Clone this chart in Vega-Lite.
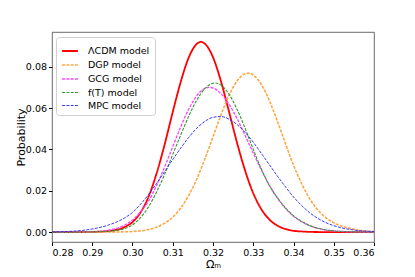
{
  "$schema": "https://vega.github.io/schema/vega-lite/v6.json",
  "width": 322,
  "height": 210,
  "autosize": "none",
  "padding": {"left": 52, "top": 32, "right": 41, "bottom": 35},
  "config": {
    "font": "DejaVu Sans",
    "view": {"stroke": "#444", "strokeWidth": 0.8},
    "axis": {"grid": false, "domain": false, "tickColor": "#000", "tickSize": 3.5, "labelColor": "#000", "labelFont": "DejaVu Sans", "labelFontSize": 9.5, "titleFont": "DejaVu Sans", "titleFontSize": 11, "titleFontWeight": "normal", "titleColor": "#000"}
  },
  "datasets": {
    "curves": [
      {"x":0.280,"p":0,"model":"ΛCDM model"},{"x":0.285,"p":0.00001,"model":"ΛCDM model"},{"x":0.290,"p":0.0001,"model":"ΛCDM model"},{"x":0.294,"p":0.0005,"model":"ΛCDM model"},{"x":0.298,"p":0.0024,"model":"ΛCDM model"},{"x":0.300,"p":0.0048,"model":"ΛCDM model"},{"x":0.302,"p":0.0095,"model":"ΛCDM model"},{"x":0.304,"p":0.0172,"model":"ΛCDM model"},{"x":0.306,"p":0.0285,"model":"ΛCDM model"},{"x":0.308,"p":0.0425,"model":"ΛCDM model"},{"x":0.310,"p":0.0581,"model":"ΛCDM model"},{"x":0.312,"p":0.0728,"model":"ΛCDM model"},{"x":0.314,"p":0.0846,"model":"ΛCDM model"},{"x":0.316,"p":0.0911,"model":"ΛCDM model"},{"x":0.317,"p":0.0920,"model":"ΛCDM model"},{"x":0.318,"p":0.0911,"model":"ΛCDM model"},{"x":0.320,"p":0.0846,"model":"ΛCDM model"},{"x":0.322,"p":0.0728,"model":"ΛCDM model"},{"x":0.324,"p":0.0581,"model":"ΛCDM model"},{"x":0.326,"p":0.0430,"model":"ΛCDM model"},{"x":0.328,"p":0.0296,"model":"ΛCDM model"},{"x":0.330,"p":0.0188,"model":"ΛCDM model"},{"x":0.332,"p":0.0111,"model":"ΛCDM model"},{"x":0.334,"p":0.0061,"model":"ΛCDM model"},{"x":0.336,"p":0.0031,"model":"ΛCDM model"},{"x":0.338,"p":0.0015,"model":"ΛCDM model"},{"x":0.340,"p":0.0006,"model":"ΛCDM model"},{"x":0.342,"p":0.0003,"model":"ΛCDM model"},{"x":0.344,"p":0.0001,"model":"ΛCDM model"},{"x":0.346,"p":0.00003,"model":"ΛCDM model"},{"x":0.350,"p":0,"model":"ΛCDM model"},{"x":0.355,"p":0,"model":"ΛCDM model"},{"x":0.360,"p":0,"model":"ΛCDM model"},

      {"x":0.280,"p":0,"model":"DGP model"},{"x":0.285,"p":0,"model":"DGP model"},{"x":0.290,"p":0,"model":"DGP model"},{"x":0.294,"p":0.00002,"model":"DGP model"},{"x":0.298,"p":0.00013,"model":"DGP model"},{"x":0.300,"p":0.0003,"model":"DGP model"},{"x":0.302,"p":0.0006,"model":"DGP model"},{"x":0.304,"p":0.0012,"model":"DGP model"},{"x":0.306,"p":0.0024,"model":"DGP model"},{"x":0.308,"p":0.0043,"model":"DGP model"},{"x":0.310,"p":0.0072,"model":"DGP model"},{"x":0.312,"p":0.0117,"model":"DGP model"},{"x":0.314,"p":0.0179,"model":"DGP model"},{"x":0.316,"p":0.0258,"model":"DGP model"},{"x":0.318,"p":0.0355,"model":"DGP model"},{"x":0.320,"p":0.0461,"model":"DGP model"},{"x":0.322,"p":0.0568,"model":"DGP model"},{"x":0.324,"p":0.0662,"model":"DGP model"},{"x":0.326,"p":0.0732,"model":"DGP model"},{"x":0.328,"p":0.0766,"model":"DGP model"},{"x":0.329,"p":0.0769,"model":"DGP model"},{"x":0.330,"p":0.0760,"model":"DGP model"},{"x":0.332,"p":0.0714,"model":"DGP model"},{"x":0.334,"p":0.0636,"model":"DGP model"},{"x":0.336,"p":0.0536,"model":"DGP model"},{"x":0.338,"p":0.0428,"model":"DGP model"},{"x":0.340,"p":0.0324,"model":"DGP model"},{"x":0.342,"p":0.0235,"model":"DGP model"},{"x":0.344,"p":0.0162,"model":"DGP model"},{"x":0.346,"p":0.0108,"model":"DGP model"},{"x":0.348,"p":0.0070,"model":"DGP model"},{"x":0.350,"p":0.0045,"model":"DGP model"},{"x":0.355,"p":0.0014,"model":"DGP model"},{"x":0.360,"p":0.0002,"model":"DGP model"},

      {"x":0.280,"p":0,"model":"GCG model"},{"x":0.285,"p":0.00003,"model":"GCG model"},{"x":0.290,"p":0.0002,"model":"GCG model"},{"x":0.294,"p":0.0009,"model":"GCG model"},{"x":0.298,"p":0.0033,"model":"GCG model"},{"x":0.300,"p":0.0058,"model":"GCG model"},{"x":0.302,"p":0.0098,"model":"GCG model"},{"x":0.304,"p":0.0150,"model":"GCG model"},{"x":0.306,"p":0.0226,"model":"GCG model"},{"x":0.308,"p":0.0316,"model":"GCG model"},{"x":0.310,"p":0.0413,"model":"GCG model"},{"x":0.312,"p":0.0510,"model":"GCG model"},{"x":0.314,"p":0.0596,"model":"GCG model"},{"x":0.316,"p":0.0661,"model":"GCG model"},{"x":0.318,"p":0.0695,"model":"GCG model"},{"x":0.319,"p":0.0700,"model":"GCG model"},{"x":0.320,"p":0.0697,"model":"GCG model"},{"x":0.322,"p":0.0669,"model":"GCG model"},{"x":0.324,"p":0.0618,"model":"GCG model"},{"x":0.326,"p":0.0548,"model":"GCG model"},{"x":0.328,"p":0.0467,"model":"GCG model"},{"x":0.330,"p":0.0382,"model":"GCG model"},{"x":0.332,"p":0.0301,"model":"GCG model"},{"x":0.334,"p":0.0227,"model":"GCG model"},{"x":0.336,"p":0.0165,"model":"GCG model"},{"x":0.338,"p":0.0115,"model":"GCG model"},{"x":0.340,"p":0.0077,"model":"GCG model"},{"x":0.342,"p":0.0050,"model":"GCG model"},{"x":0.344,"p":0.0031,"model":"GCG model"},{"x":0.346,"p":0.0018,"model":"GCG model"},{"x":0.348,"p":0.0010,"model":"GCG model"},{"x":0.350,"p":0.0006,"model":"GCG model"},{"x":0.355,"p":0.0001,"model":"GCG model"},{"x":0.360,"p":0,"model":"GCG model"},

      {"x":0.280,"p":0,"model":"f(T) model"},{"x":0.285,"p":0,"model":"f(T) model"},{"x":0.290,"p":0.0001,"model":"f(T) model"},{"x":0.294,"p":0.0004,"model":"f(T) model"},{"x":0.298,"p":0.0017,"model":"f(T) model"},{"x":0.300,"p":0.0035,"model":"f(T) model"},{"x":0.302,"p":0.0070,"model":"f(T) model"},{"x":0.304,"p":0.0123,"model":"f(T) model"},{"x":0.306,"p":0.0195,"model":"f(T) model"},{"x":0.308,"p":0.0280,"model":"f(T) model"},{"x":0.310,"p":0.0376,"model":"f(T) model"},{"x":0.312,"p":0.0471,"model":"f(T) model"},{"x":0.314,"p":0.0562,"model":"f(T) model"},{"x":0.316,"p":0.0640,"model":"f(T) model"},{"x":0.318,"p":0.0695,"model":"f(T) model"},{"x":0.320,"p":0.0720,"model":"f(T) model"},{"x":0.3205,"p":0.0721,"model":"f(T) model"},{"x":0.322,"p":0.0711,"model":"f(T) model"},{"x":0.324,"p":0.0666,"model":"f(T) model"},{"x":0.326,"p":0.0593,"model":"f(T) model"},{"x":0.328,"p":0.0501,"model":"f(T) model"},{"x":0.330,"p":0.0400,"model":"f(T) model"},{"x":0.332,"p":0.0305,"model":"f(T) model"},{"x":0.334,"p":0.0225,"model":"f(T) model"},{"x":0.336,"p":0.0166,"model":"f(T) model"},{"x":0.338,"p":0.0117,"model":"f(T) model"},{"x":0.340,"p":0.0079,"model":"f(T) model"},{"x":0.342,"p":0.0052,"model":"f(T) model"},{"x":0.344,"p":0.0032,"model":"f(T) model"},{"x":0.346,"p":0.0019,"model":"f(T) model"},{"x":0.348,"p":0.0011,"model":"f(T) model"},{"x":0.350,"p":0.0006,"model":"f(T) model"},{"x":0.355,"p":0.0001,"model":"f(T) model"},{"x":0.360,"p":0,"model":"f(T) model"},

      {"x":0.280,"p":0.0001,"model":"MPC model"},{"x":0.285,"p":0.0004,"model":"MPC model"},{"x":0.290,"p":0.0015,"model":"MPC model"},{"x":0.294,"p":0.0034,"model":"MPC model"},{"x":0.298,"p":0.0068,"model":"MPC model"},{"x":0.300,"p":0.0095,"model":"MPC model"},{"x":0.302,"p":0.0135,"model":"MPC model"},{"x":0.304,"p":0.0182,"model":"MPC model"},{"x":0.306,"p":0.0236,"model":"MPC model"},{"x":0.308,"p":0.0293,"model":"MPC model"},{"x":0.310,"p":0.0351,"model":"MPC model"},{"x":0.312,"p":0.0407,"model":"MPC model"},{"x":0.314,"p":0.0459,"model":"MPC model"},{"x":0.316,"p":0.0503,"model":"MPC model"},{"x":0.318,"p":0.0536,"model":"MPC model"},{"x":0.320,"p":0.0555,"model":"MPC model"},{"x":0.322,"p":0.0559,"model":"MPC model"},{"x":0.324,"p":0.0546,"model":"MPC model"},{"x":0.326,"p":0.0520,"model":"MPC model"},{"x":0.328,"p":0.0482,"model":"MPC model"},{"x":0.330,"p":0.0435,"model":"MPC model"},{"x":0.332,"p":0.0381,"model":"MPC model"},{"x":0.334,"p":0.0326,"model":"MPC model"},{"x":0.336,"p":0.0271,"model":"MPC model"},{"x":0.338,"p":0.0219,"model":"MPC model"},{"x":0.340,"p":0.0170,"model":"MPC model"},{"x":0.342,"p":0.0129,"model":"MPC model"},{"x":0.344,"p":0.0094,"model":"MPC model"},{"x":0.346,"p":0.0067,"model":"MPC model"},{"x":0.348,"p":0.0046,"model":"MPC model"},{"x":0.350,"p":0.0031,"model":"MPC model"},{"x":0.355,"p":0.0010,"model":"MPC model"},{"x":0.360,"p":0.0003,"model":"MPC model"}
    ]
  },
  "data": {"name": "curves"},
  "mark": {"type": "line", "interpolate": "monotone", "clip": true},
  "encoding": {
    "x": {"field": "x", "type": "quantitative", "scale": {"domain": [0.28, 0.36], "nice": false, "zero": false},
      "axis": {"values": [0.28,0.29,0.30,0.31,0.32,0.33,0.34,0.35,0.36], "format": ".2f", "title": "Ωₘ", "labelPadding": 2, "titlePadding": 1}},
    "y": {"field": "p", "type": "quantitative", "scale": {"domain": [-0.0048, 0.0968], "nice": false, "zero": false},
      "axis": {"values": [0,0.02,0.04,0.06,0.08], "format": ".2f", "title": "Probability", "labelPadding": 2, "titlePadding": -1}},
    "color": {"field": "model", "type": "nominal",
      "scale": {"domain": ["ΛCDM model","DGP model","GCG model","f(T) model","MPC model"], "range": ["#ff0000","#ffa640","#ff44ff","#2e9e2e","#2222ff"]},
      "legend": {"title": null, "orient": "none", "legendX": 4, "legendY": 5, "symbolType": "stroke", "symbolSize": 250, "labelFontSize": 9.5, "labelFont": "DejaVu Sans", "labelColor": "#000", "labelOffset": 9, "rowPadding": -2, "padding": 5, "strokeColor": "#d0d0d0", "fillColor": "#ffffff", "cornerRadius": 3}},
    "strokeDash": {"field": "model", "type": "nominal",
      "scale": {"domain": ["ΛCDM model","DGP model","GCG model","f(T) model","MPC model"], "range": [[1,0],[3,1.3],[3,1.3],[3,1.3],[3,1.3]]},
      "legend": {"title": null}},
    "strokeWidth": {"field": "model", "type": "nominal",
      "scale": {"domain": ["ΛCDM model","DGP model","GCG model","f(T) model","MPC model"], "range": [1.8,0.9,0.9,0.9,0.9]},
      "legend": {"title": null}}
  }
}
